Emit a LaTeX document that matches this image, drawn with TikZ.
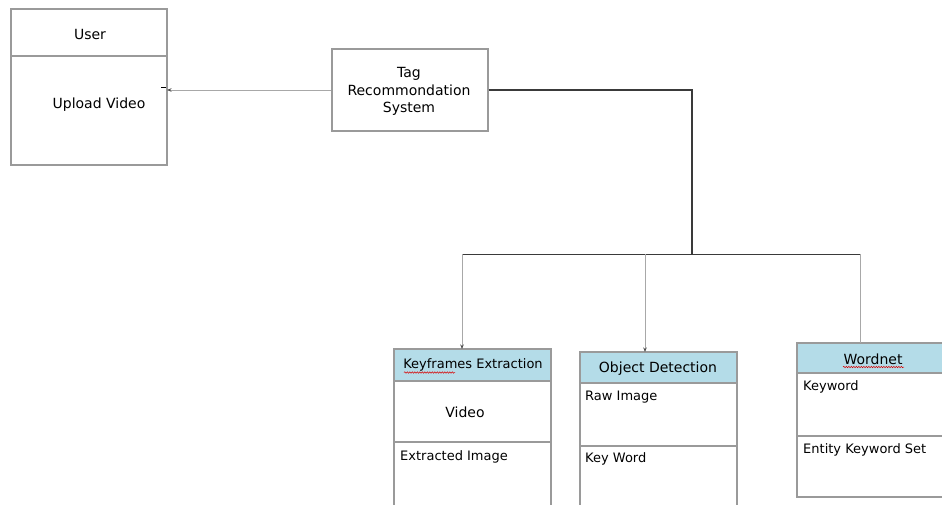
\documentclass[tikz,border=0pt]{standalone}
\usepackage{fontspec}
\setmainfont{DejaVu Sans}
\usetikzlibrary{arrows.meta,decorations.pathmorphing}
\definecolor{boxline}{HTML}{9A9A9A}
\definecolor{hdrfill}{HTML}{B4DCE8}
\definecolor{conn}{HTML}{A8A8A8}
\definecolor{trunk}{HTML}{3A3A3A}
\tikzset{
  box/.style={draw=boxline, line width=1.1pt},
  hdr/.style={draw=boxline, line width=1.1pt, fill=hdrfill},
  lbl/.style={inner sep=0pt, font=\fontsize{13}{16}\selectfont},
  lblbig/.style={inner sep=0pt, font=\fontsize{14}{17.5}\selectfont},
  conline/.style={draw=conn, line width=1pt},
  tip/.style={-{Stealth[length=4.5pt,width=3.5pt,color=black!70]}},
  spell/.style={draw=red!85!black, line width=0.5pt, decorate, decoration={snake, amplitude=0.7pt, segment length=2.5pt}}
}
\begin{document}
\begin{tikzpicture}[x=1pt,y=-1pt]
\useasboundingbox (0,0) rectangle (942,504);
\clip (0,0) rectangle (942,504);
\fill[white] (0,0) rectangle (942,504);

% User box
\draw[box] (11,9) rectangle (167,165);
\draw[box] (11,56) -- (167,56);
\node[lblbig] (user) at (90,34) {User};
\node[lblbig] (upload) at (99,105) {Upload Video};
\coordinate (userin) at (167,90);
\draw[black, line width=1pt] (161,87) -- (166,87);

% Tag Recommendation System
\node[box, minimum width=156pt, minimum height=82pt, inner sep=0pt] (tag) at (410,90) {};
\node[lblbig, align=center] (tagtxt) at (409,91.5) {Tag\\Recommondation\\System};

\draw[conline, tip] (tag.west) -- (userin);

% Trunk
\coordinate (bend) at (692,90);
\coordinate (jn) at (692,254);
\coordinate (jl) at (462,254);
\coordinate (jm) at (645,254);
\coordinate (jr) at (860,254);
\draw[trunk, line width=1.2pt] (tag.east) -- (bend) -- (jn);
\draw[trunk, line width=1pt] (jl) -- (jr);

% Keyframes Extraction
\draw[hdr] (394,349) rectangle (551,381);
\draw[box] (394,381) rectangle (551,520);
\draw[box] (394,442) -- (551,442);
\node[lbl] (kfh) at (473,365) {Keyframes Extraction};
\draw[spell] (404,372.5) -- (455,372.5);
\node[lblbig] (video) at (465,412) {Video};
\node[lbl, anchor=west] (extr) at (400,457) {Extracted Image};
\coordinate (kftop) at (462,349);

% Object Detection
\draw[hdr] (580,352) rectangle (737,383);
\draw[box] (580,383) rectangle (737,520);
\draw[box] (580,446) -- (737,446);
\node[lblbig] (odh) at (658,369) {Object Detection};
\node[lbl, anchor=west] (raw) at (585,397) {Raw Image};
\node[lbl, anchor=west] (kw) at (585,459) {Key Word};
\coordinate (odtop) at (645,352);

% Wordnet
\draw[hdr] (797,343) rectangle (944,373);
\draw[box] (797,373) rectangle (944,497);
\draw[box] (797,436) -- (944,436);
\node[lblbig] (wnh) at (873,359) {Wordnet};
\draw[spell] (843,367) -- (904,367);
\node[lbl, anchor=west] (kwd) at (803,387) {Keyword};
\node[lbl, anchor=west] (eks) at (803,450) {Entity Keyword Set};
\coordinate (wntop) at (860,343);

% Branch connectors
\draw[conline, tip] (jl) -- (kftop);
\draw[conline, tip] (jm) -- (odtop);
\draw[conline] (jr) -- (wntop);
\end{tikzpicture}
\end{document}
